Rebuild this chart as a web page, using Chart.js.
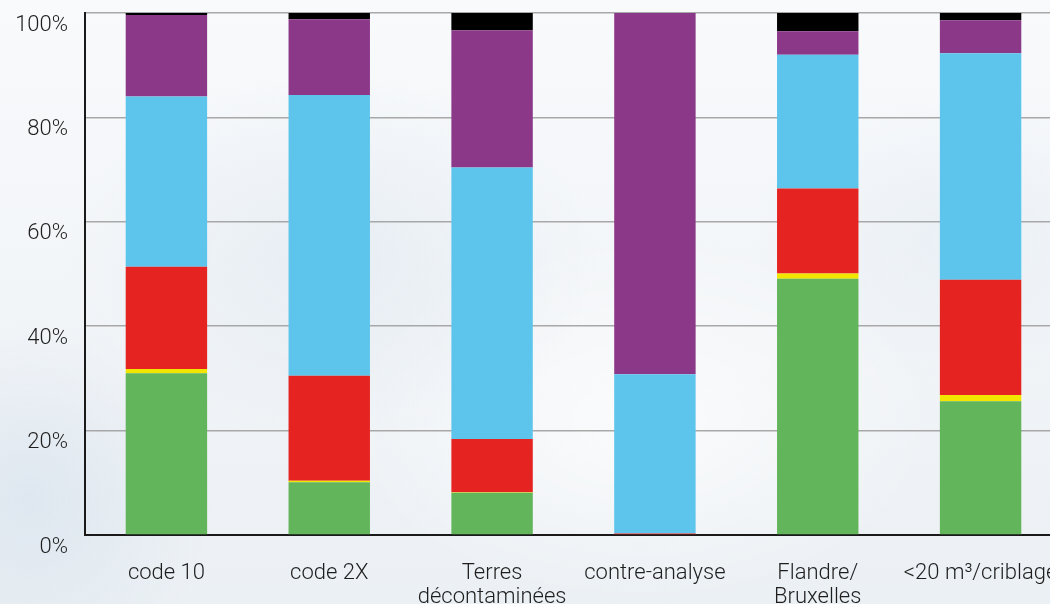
<!DOCTYPE html>
<html>
<head>
<meta charset="utf-8">
<script src="https://cdn.jsdelivr.net/npm/chart.js@4/dist/chart.umd.min.js"></script>
<style>
  html, body { margin: 0; padding: 0; width: 1050px; height: 604px; overflow: hidden; }
  body {
    background:
      radial-gradient(ellipse 380px 260px at 330px 260px, rgba(218,229,238,0.5), rgba(218,229,238,0) 70%),
      radial-gradient(ellipse 300px 200px at 960px 240px, rgba(222,232,241,0.45), rgba(222,232,241,0) 70%),
      radial-gradient(ellipse 420px 260px at 640px 420px, rgba(255,255,255,0.7), rgba(255,255,255,0) 70%),
      radial-gradient(ellipse 260px 260px at 30px 500px, rgba(212,224,236,0.6), rgba(212,224,236,0) 70%),
      linear-gradient(180deg, #f8fafc 0%, #f1f4f7 60%, #ebf0f4 100%);
  }
  #wrap { position: absolute; left: 0; top: 0; width: 1062px; height: 604px; }
</style>
</head>
<body>
<div id="wrap"><canvas id="chart" width="1062" height="604"></canvas></div>
<script>
// Categories along the x axis
const categories = [
  'code 10',
  'code 2X',
  ['Terres', 'décontaminées'],
  'contre-analyse',
  ['Flandre/', 'Bruxelles'],
  '<20 m³/criblage'
];

// Share of each class per category (%), stacked bottom to top
const greenShare  = [31.0, 10.1,  8.1,  0.0, 49.1, 25.6];
const yellowShare = [ 0.8,  0.3,  0.1,  0.0,  1.0,  1.2];
const redShare    = [19.6, 20.1, 10.2,  0.3, 16.3, 22.1];
const blueShare   = [32.6, 53.8, 52.0, 30.5, 25.6, 43.4];
const purpleShare = [15.6, 14.5, 26.3, 69.2,  4.5,  6.3];
const blackShare  = [ 0.4,  1.2,  3.3,  0.0,  3.5,  1.4];

// Y axis tick values
const yTicks = [0, 20, 40, 60, 80, 100];

const seriesList = [
  { label: 'vert',   data: greenShare,  color: '#62b55a' },
  { label: 'jaune',  data: yellowShare, color: '#f2e600' },
  { label: 'rouge',  data: redShare,    color: '#e52421' },
  { label: 'bleu',   data: blueShare,   color: '#5dc5ec' },
  { label: 'violet', data: purpleShare, color: '#8c3889' },
  { label: 'noir',   data: blackShare,  color: '#000000' }
];

const font = { family: 'Roboto, "Liberation Sans", sans-serif', size: 22, weight: 300, lineHeight: 1.1 };

new Chart(document.getElementById('chart'), {
  type: 'bar',
  data: {
    labels: categories,
    datasets: seriesList.map(s => ({
      label: s.label,
      data: s.data,
      backgroundColor: s.color,
      borderWidth: 0,
      barPercentage: 0.5,
      categoryPercentage: 1.0
    }))
  },
  options: {
    responsive: false,
    animation: false,
    devicePixelRatio: 1,
    layout: { padding: { top: 13, right: 0, left: 0, bottom: 0 } },
    plugins: { legend: { display: false }, tooltip: { enabled: false } },
    scales: {
      x: {
        stacked: true,
        grid: { display: false, drawTicks: false },
        border: { display: true, color: '#1a1a1a', width: 2 },
        ticks: {
          color: '#1e1e1e',
          font: font,
          padding: 26,
          maxRotation: 0,
          autoSkip: false
        },
        afterFit: (scale) => { scale.height = 69; scale.paddingLeft = 0; scale.paddingRight = 0; }
      },
      y: {
        stacked: true,
        min: 0,
        max: 100,
        afterBuildTicks: (scale) => { scale.ticks = yTicks.map(v => ({ value: v })); },
        grid: { color: '#a8a8a8', lineWidth: 1.5, drawTicks: false },
        border: { display: true, color: '#1a1a1a', width: 2 },
        ticks: {
          color: '#1e1e1e',
          font: font,
          padding: 17,
          labelOffset: 12,
          callback: (v) => v + '%'
        },
        afterFit: (scale) => { scale.width = 85; scale.paddingTop = 0; scale.paddingBottom = 0; }
      }
    }
  }
});
</script>
</body>
</html>
